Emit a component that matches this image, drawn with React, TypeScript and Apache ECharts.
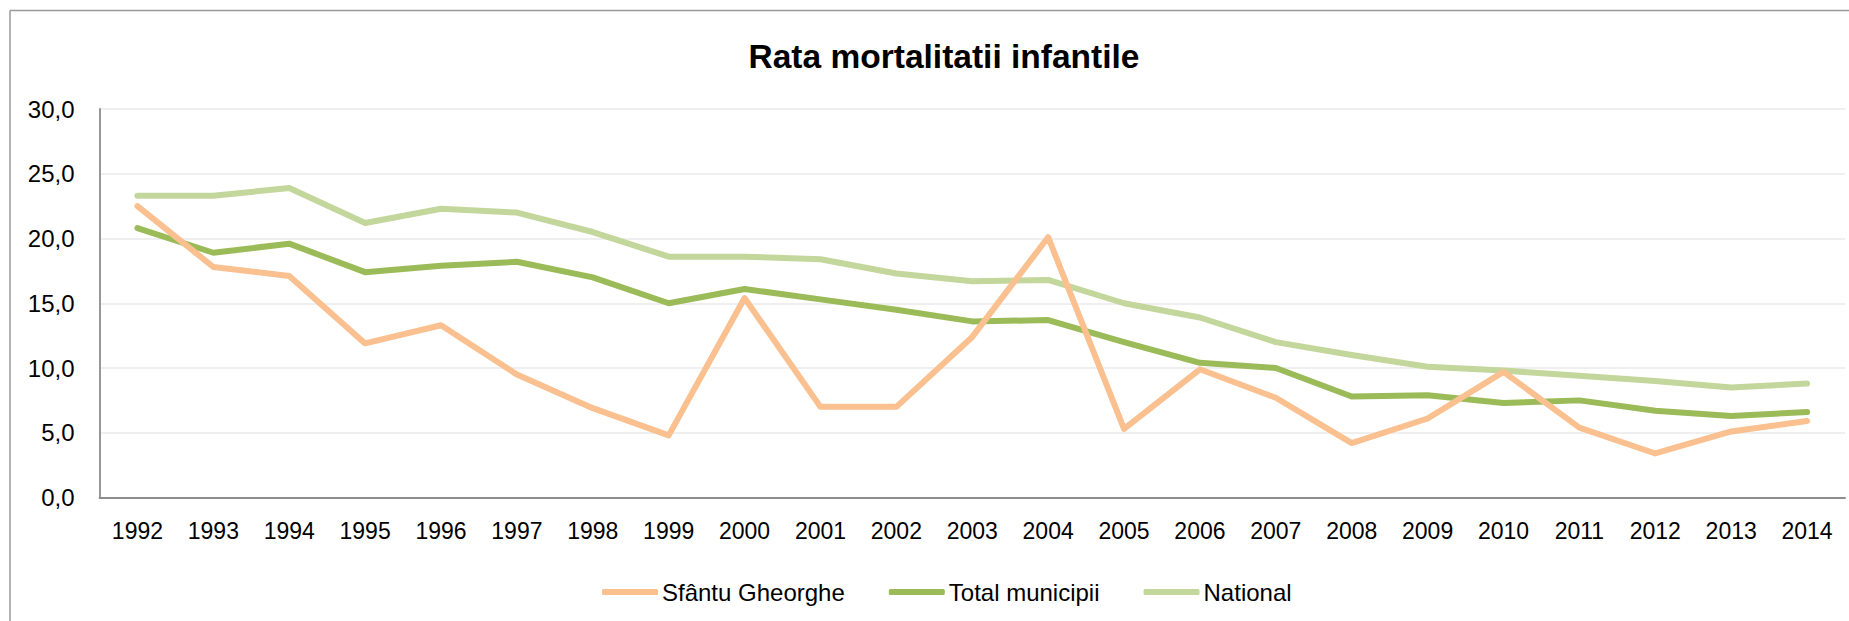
import React, { useEffect, useRef } from "react";
import * as echarts from "echarts";

const years = ["1992","1993","1994","1995","1996","1997","1998","1999","2000","2001","2002","2003","2004","2005","2006","2007","2008","2009","2010","2011","2012","2013","2014"];
const sfantuGheorghe = [22.5, 17.8, 17.1, 11.9, 13.3, 9.5, 6.9, 4.8, 15.4, 7.0, 7.0, 12.4, 20.1, 5.3, 9.9, 7.7, 4.2, 6.1, 9.7, 5.4, 3.4, 5.1, 5.9];
const totalMunicipii = [20.8, 18.9, 19.6, 17.4, 17.9, 18.2, 17.0, 15.0, 16.1, 15.3, 14.5, 13.6, 13.7, 12.0, 10.4, 10.0, 7.8, 7.9, 7.3, 7.5, 6.7, 6.3, 6.6];
const national = [23.3, 23.3, 23.9, 21.2, 22.3, 22.0, 20.5, 18.6, 18.6, 18.4, 17.3, 16.7, 16.8, 15.0, 13.9, 12.0, 11.0, 10.1, 9.8, 9.4, 9.0, 8.5, 8.8];
const seriesNames = ["Sfântu Gheorghe", "Total municipii", "National"];
const seriesColors = ["#FAC090", "#9BBB59", "#C3D69B"];
const titleText = "Rata mortalitatii infantile";

const FONT = "'Liberation Sans', Arial, sans-serif";

export default function App() {
  const ref = useRef<HTMLDivElement>(null);
  useEffect(() => {
    if (!ref.current) return;
    const chart = echarts.init(ref.current, undefined, { renderer: "svg" });
    const dataSets = [sfantuGheorghe, totalMunicipii, national];
    const zs = [4, 3, 2];
    chart.setOption({
      animation: false,
      backgroundColor: "#ffffff",
      textStyle: { fontFamily: FONT },
      title: {
        text: titleText,
        left: 939,
        textAlign: "center",
        top: 34,
        textStyle: { fontFamily: FONT, fontSize: 33.5, fontWeight: "bold", color: "#000000" },
      },
      graphic: [
        { type: "line", shape: { x1: 10, y1: 10.5, x2: 1849, y2: 10.5 }, style: { stroke: "#9A9A9A", lineWidth: 1.5 }, silent: true },
        { type: "line", shape: { x1: 10, y1: 10.5, x2: 10, y2: 621 }, style: { stroke: "#9A9A9A", lineWidth: 1.5 }, silent: true },
      ],
      legend: {
        data: seriesNames,
        left: 597,
        top: 575,
        itemWidth: 56,
        itemHeight: 6,
        itemGap: 44,
        icon: "roundRect",
        textStyle: { fontFamily: FONT, fontSize: 24, color: "#000000", padding: [0, 0, 0, -1] },
      },
      grid: { left: 99.5, right: 4, top: 109, bottom: 123.5, containLabel: false },
      xAxis: {
        type: "category",
        data: years,
        boundaryGap: true,
        axisLine: { show: true, lineStyle: { color: "#8C8C8C", width: 1.8 } },
        axisTick: { show: false },
        axisLabel: { fontFamily: FONT, fontSize: 23, color: "#000000", margin: 22, interval: 0 },
        splitLine: { show: false },
      },
      yAxis: {
        type: "value",
        min: 0,
        max: 30,
        interval: 5,
        axisLine: { show: true, lineStyle: { color: "#8C8C8C", width: 1.8 } },
        axisTick: { show: false },
        axisLabel: {
          fontFamily: FONT,
          fontSize: 24,
          color: "#000000",
          margin: 25,
          formatter: (v: number) => v.toFixed(1).replace(".", ","),
        },
        splitLine: { show: true, lineStyle: { color: "#EFEFEF", width: 2 } },
      },
      series: seriesNames.map((name, i) => ({
        name,
        type: "line",
        data: dataSets[i],
        z: zs[i],
        symbol: "none",
        showSymbol: false,
        smooth: false,
        color: seriesColors[i],
        itemStyle: { color: seriesColors[i] },
        lineStyle: { color: seriesColors[i], width: 6, cap: "round", join: "round" },
      })),
    });
    return () => chart.dispose();
  }, []);
  return <div ref={ref} style={{ position: "absolute", left: 0, top: 0, width: 1849, height: 621 }} />;
}
